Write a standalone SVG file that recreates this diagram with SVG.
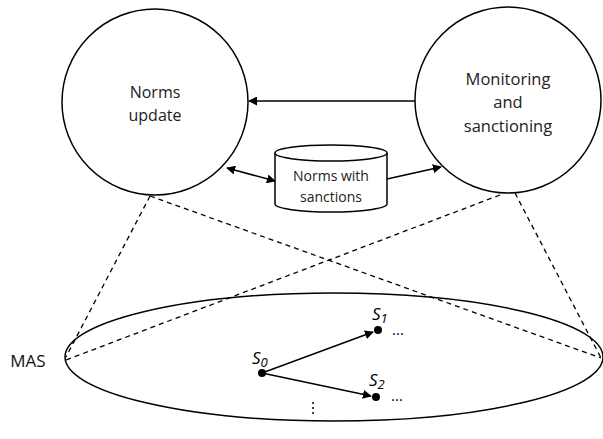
<svg xmlns="http://www.w3.org/2000/svg" width="603" height="439" viewBox="0 0 603 439">
<defs>
<marker id="ah" viewBox="0 0 10 10" refX="9" refY="5" markerWidth="9" markerHeight="9" markerUnits="userSpaceOnUse" orient="auto-start-reverse"><path d="M0,0 L10,5 L0,10 z" fill="#000"/></marker>
<style>
.s{fill:#fff;stroke:#000;stroke-width:1.5}
.t{font-family:"Open Sans","Liberation Sans",sans-serif;font-size:16px;fill:#222;text-anchor:middle}
.c{stroke:#000;stroke-width:1.5;fill:none}
.d{stroke:#000;stroke-width:1.3;fill:none;stroke-dasharray:5,4}
.i{font-family:"Open Sans","Liberation Sans",sans-serif;font-style:italic;font-size:17px;fill:#000}
.e{font-family:"Open Sans","Liberation Sans",sans-serif;font-size:15px;fill:#000}
</style>
</defs>
<g id="mas">
<ellipse class="s" cx="334" cy="357" rx="269" ry="64"/>
<text x="28" y="367" style="font-family:'Open Sans','Liberation Sans',sans-serif;font-size:17px;fill:#111;text-anchor:middle">MAS</text>
</g>
<g id="norms-update">
<circle class="s" cx="155" cy="102" r="93"/>
<text class="t" x="155" y="98">Norms</text>
<text class="t" x="155" y="121">update</text>
</g>
<g id="monitoring">
<circle class="s" cx="508" cy="100" r="93"/>
<text class="t" x="508" y="85" style="font-size:16.5px">Monitoring</text>
<text class="t" x="508" y="108" style="font-size:16.5px">and</text>
<text class="t" x="508" y="132" style="font-size:16.5px">sanctioning</text>
</g>
<g id="norms-db">
<path class="s" d="M275,153 L275,204 A56,8 0 0 0 387,204 L387,153"/>
<ellipse class="s" cx="331" cy="153" rx="56" ry="8"/>
<text class="t" x="331" y="181" style="font-size:14px">Norms with</text>
<text class="t" x="331" y="202" style="font-size:14px">sanctions</text>
</g>
<g id="s0"><circle cx="262" cy="373" r="4"/><text class="i" x="252" y="364">S<tspan font-size="13" dy="3">0</tspan></text></g>
<g id="s1"><circle cx="378" cy="330" r="4"/><text class="i" x="372" y="320">S<tspan font-size="13" dy="3">1</tspan></text><text class="e" x="392" y="335">...</text></g>
<g id="s2"><circle cx="376" cy="397" r="4"/><text class="i" x="369" y="386">S<tspan font-size="13" dy="3">2</tspan></text><text class="e" x="391" y="401">...</text></g>
<g id="vdots"><circle cx="313" cy="403" r="1"/><circle cx="313" cy="408" r="1"/><circle cx="313" cy="413" r="1"/></g>
<g id="connectors">
<line class="c" x1="415" y1="101" x2="249" y2="101" marker-end="url(#ah)"/>
<line class="c" x1="227" y1="168" x2="275" y2="181" marker-start="url(#ah)" marker-end="url(#ah)"/>
<line class="c" x1="387" y1="179" x2="441" y2="167" marker-end="url(#ah)"/>
<line class="c" x1="262" y1="373" x2="373" y2="332" marker-end="url(#ah)"/>
<line class="c" x1="262" y1="373" x2="371" y2="396" marker-end="url(#ah)"/>
<line class="d" x1="150" y1="196" x2="66" y2="357"/>
<line class="d" x1="150" y1="196" x2="601" y2="358"/>
<line class="d" x1="515" y1="193" x2="601" y2="358"/>
<line class="d" x1="500" y1="195" x2="66" y2="360"/>
</g>
</svg>
